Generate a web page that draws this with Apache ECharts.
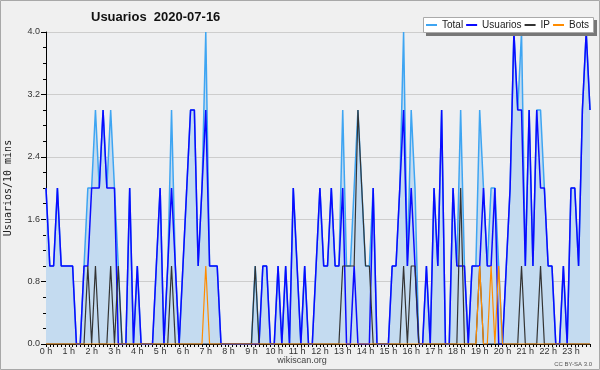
<!DOCTYPE html>
<html>
<head>
<meta charset="utf-8">
<script src="https://cdn.jsdelivr.net/npm/echarts@6/dist/echarts.min.js"></script>
<style>
html,body{margin:0;padding:0;background:#f0f0f0;}
#chart{width:600px;height:370px;}
</style>
</head>
<body>
<div id="chart"></div>
<script>
// 10-minute slots for 2020-07-16 (144 points)
var hourLabels = ['0 h','1 h','2 h','3 h','4 h','5 h','6 h','7 h','8 h','9 h','10 h','11 h','12 h','13 h','14 h','15 h','16 h','17 h','18 h','19 h','20 h','21 h','22 h','23 h'];
var slots = [];
for (var h = 0; h < 24; h++) { for (var m = 0; m < 60; m += 10) { slots.push((h < 10 ? '0' : '') + h + ':' + (m < 10 ? '0' : '') + m); } }

var total = [
 2,1,1,2,1,1, 1,1,0,0,1,2, 2,3,2,3,2,3, 2,1,0,0,2,0,
 1,0,0,0,0,1, 2,0,1,3,1,0, 1,2,3,3,1,2, 4,1,1,1,0,0,
 0,0,0,0,0,0, 0,1,0,1,1,0, 0,1,0,1,0,2, 1,0,1,0,0,1,
 2,1,1,2,1,1, 3,1,1,2,3,2, 1,1,2,0,0,0, 0,1,1,2,4,1,
 3,2,0,0,1,0, 2,1,3,0,0,2, 1,3,1,0,1,1, 3,2,1,2,2,1,
 0,1,2,4,3,4, 1,3,1,3,3,2, 1,1,0,0,1,0, 2,2,1,3,4,3
];
var usuarios = [
 2,1,1,2,1,1, 1,1,0,0,1,1, 2,2,2,3,2,2, 2,0,0,0,2,0,
 1,0,0,0,0,1, 2,0,1,2,1,0, 1,2,3,3,1,2, 3,1,1,1,0,0,
 0,0,0,0,0,0, 0,0,0,1,1,0, 0,1,0,1,0,2, 1,0,1,0,0,1,
 2,1,1,2,1,1, 2,0,0,1,0,0, 0,0,2,0,0,0, 0,1,1,2,3,1,
 2,1,0,0,1,0, 2,1,3,0,0,2, 1,1,1,0,1,1, 1,2,1,1,2,0,
 0,1,2,4,3,3, 1,3,1,3,2,2, 1,1,0,0,1,0, 2,2,1,3,4,3
];
var ip = [
 0,0,0,0,0,0, 0,0,0,0,0,1, 0,1,0,0,0,1, 0,1,0,0,0,0,
 0,0,0,0,0,0, 0,0,0,1,0,0, 0,0,0,0,0,0, 0,0,0,0,0,0,
 0,0,0,0,0,0, 0,1,0,0,0,0, 0,0,0,0,0,0, 0,0,0,0,0,0,
 0,0,0,0,0,0, 1,1,1,1,3,2, 1,1,0,0,0,0, 0,0,0,0,1,0,
 1,1,0,0,0,0, 0,0,0,0,0,0, 0,2,0,0,0,0, 1,0,0,0,0,0,
 0,0,0,0,0,1, 0,0,0,0,1,0, 0,0,0,0,0,0, 0,0,0,0,0,0
];
var bots = [
 0,0,0,0,0,0, 0,0,0,0,0,0, 0,0,0,0,0,0, 0,0,0,0,0,0,
 0,0,0,0,0,0, 0,0,0,0,0,0, 0,0,0,0,0,0, 1,0,0,0,0,0,
 0,0,0,0,0,0, 0,0,0,0,0,0, 0,0,0,0,0,0, 0,0,0,0,0,0,
 0,0,0,0,0,0, 0,0,0,0,0,0, 0,0,0,0,0,0, 0,0,0,0,0,0,
 0,0,0,0,0,0, 0,0,0,0,0,0, 0,0,0,0,0,0, 1,0,0,1,0,1,
 0,0,0,0,0,0, 0,0,0,0,0,0, 0,0,0,0,0,0, 0,0,0,0,0,0
];
var seriesNames = ['Total','Usuarios','IP','Bots'];
var colors = {Total:'#3ea5f2', Usuarios:'#0a0aff', IP:'#333333', Bots:'#ff8c00'};

var chart = echarts.init(document.getElementById('chart'), null, {renderer:'canvas'});
var option = {
  animation:false,
  backgroundColor:'#f0f0f0',
  title:{text:'Usuarios  2020-07-16', left:86, top:6,
    textStyle:{fontFamily:'Liberation Sans', fontWeight:'bold', fontSize:13, color:'#111'}},
  legend:{data:seriesNames, left:423, top:17, padding:[3,6,2,3], itemGap:3,
    itemWidth:11, itemHeight:2, icon:'rect', z:101,
    textStyle:{fontFamily:'Liberation Sans', fontSize:10, color:'#222'}},
  grid:{left:46, right:10, top:32, bottom:26, show:true, backgroundColor:'#eeeff1', borderWidth:0,
    containLabel:false, outerBoundsMode:'none'},
  xAxis:{type:'category', data:slots, boundaryGap:false,
    axisLine:{lineStyle:{color:'#000', width:1}},
    axisTick:{interval:0, length:3, lineStyle:{color:'#000'}},
    axisLabel:{interval:function(i){return i % 6 === 0;},
      formatter:function(v, i){return hourLabels[Math.floor(i/6)];},
      fontFamily:'Liberation Sans', fontSize:9, color:'#333', margin:3},
    splitLine:{show:false}},
  yAxis:{type:'value', min:0, max:4, interval:0.8,
    name:'Usuarios/10 mins', nameLocation:'middle', nameGap:33,
    nameTextStyle:{fontFamily:'DejaVu Sans Mono', fontSize:10, color:'#222'},
    axisLine:{show:true, lineStyle:{color:'#000'}},
    axisTick:{show:true, length:5, lineStyle:{color:'#000'}},
    minorTick:{show:true, splitNumber:4, length:3, lineStyle:{color:'#000'}},
    axisLabel:{formatter:function(v){return v.toFixed(1);}, fontFamily:'Liberation Sans', fontSize:9, color:'#333', margin:6},
    splitLine:{lineStyle:{color:'#cdcdcd', width:1}}},
  series:[
    {name:'Total', type:'line', data:total, symbol:'none', z:2,
      lineStyle:{color:colors.Total, width:1.5}, itemStyle:{color:colors.Total},
      areaStyle:{color:'#c4dbf0', opacity:1}},
    {name:'Usuarios', type:'line', data:usuarios, symbol:'none', z:3,
      lineStyle:{color:colors.Usuarios, width:1.5}, itemStyle:{color:colors.Usuarios}},
    {name:'IP', type:'line', data:ip, symbol:'none', z:4,
      lineStyle:{color:colors.IP, width:1.2}, itemStyle:{color:colors.IP}},
    {name:'Bots', type:'line', data:bots, symbol:'none', z:5,
      lineStyle:{color:colors.Bots, width:1.2}, itemStyle:{color:colors.Bots}}
  ],
  graphic:[
    {type:'rect', z:100, shape:{x:426, y:20, width:171, height:16}, style:{fill:'#777'}},
    {type:'rect', z:100, shape:{x:423.5, y:17.5, width:170, height:15}, style:{fill:'#fff', stroke:'#aaa', lineWidth:1}},
    {type:'text', z:100, x:302, y:361, style:{text:'wikiscan.org', fill:'#444', font:'9px "Liberation Sans"', textAlign:'center', textVerticalAlign:'middle'}},
    {type:'text', z:100, x:592, y:364, style:{text:'CC BY-SA 3.0', fill:'#555', font:'6px "Liberation Sans"', textAlign:'right', textVerticalAlign:'middle'}},
    {type:'rect', z:100, shape:{x:0.5, y:0.5, width:599, height:369}, style:{fill:'none', stroke:'#a8a8a8', lineWidth:1}}
  ]
};
chart.setOption(option);
</script>
</body>
</html>
